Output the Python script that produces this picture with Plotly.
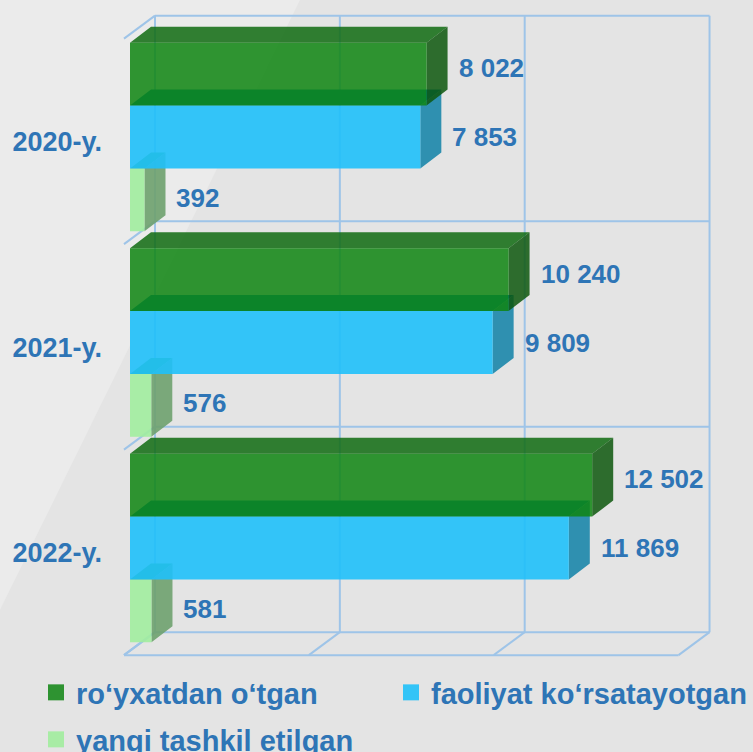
import plotly.graph_objects as go

# ---------------- data ----------------
years = ["2020-y.", "2021-y.", "2022-y."]
series_names = ["ro‘yxatdan o‘tgan", "faoliyat ko‘rsatayotgan", "yangi tashkil etilgan"]
registered = [8022, 10240, 12502]      # ro‘yxatdan o‘tgan
active = [7853, 9809, 11869]           # faoliyat ko‘rsatayotgan
new_created = [392, 576, 581]          # yangi tashkil etilgan
grid_values = [0, 5000, 10000, 15000]

# ---------------- geometry / style ----------------
W, H = 753, 752
K = 184.85 / 5000.0          # px per value unit (x)
ROW = 205.5                  # px per category (y)
X0_PX = 130                  # pixel of value 0 on bar front plane
Y0_PX = 137                  # pixel of first category center
M_L, M_R, M_T, M_B = 106, 13, 0, 92
PLOT_W = W - M_L - M_R
PLOT_H = H - M_T - M_B

xmin = (M_L - X0_PX) / K
xmax = (W - M_R - X0_PX) / K
ytop = (M_T - Y0_PX) / ROW
ybot = (M_T + PLOT_H - Y0_PX) / ROW

BAR_H = 62.8 / ROW
BAR_DX, BAR_DY = 21 / K, -16 / ROW         # bar depth
BACK_DX, BACK_DY = 25 / K, -18.6 / ROW     # back wall offset
FRONT_DX, FRONT_DY = -6 / K, 4.4 / ROW     # front edge offset

TEXT_BLUE = "#2e75b6"
GRID_COL = "rgb(158,196,232)"
FONT = "Liberation Sans, Arial, sans-serif"

# series drawn from bottom (back) to top so translucent fronts overlap correctly
series = [
    dict(vals=new_created, off=1, front="rgba(161,237,158,0.9)", top="rgb(70,170,80)",
         side="rgba(110,161,110,0.9)", legend="#a8eca5", name=series_names[2], dy=2),
    dict(vals=active, off=0, front="rgba(31,192,249,0.9)", top="rgb(0,128,181)",
         side="rgba(27,134,170,0.9)", legend="#33c4f7", name=series_names[1], dy=0),
    dict(vals=registered, off=-1, front="rgba(14,133,17,0.85)", top="rgba(15,107,16,0.85)",
         side="rgba(13,87,13,0.85)", legend="#2e9331", name=series_names[0], dy=6),
]

fig = go.Figure()

# ---------------- 3D frame (walls / floor grid) ----------------
gx, gy = [], []
bounds = [i - 0.5 for i in range(len(years) + 1)]
gmax = grid_values[-1]
for g in grid_values:  # back wall verticals
    gx += [g + BACK_DX, g + BACK_DX, None]
    gy += [bounds[0] + BACK_DY, bounds[-1] + BACK_DY, None]
for b in bounds:  # back wall horizontals
    gx += [BACK_DX, gmax + BACK_DX, None]
    gy += [b + BACK_DY, b + BACK_DY, None]
for b in bounds:  # left wall diagonals
    gx += [FRONT_DX, BACK_DX, None]
    gy += [b + FRONT_DY, b + BACK_DY, None]
for g in grid_values:  # floor diagonals
    gx += [g + FRONT_DX, g + BACK_DX, None]
    gy += [bounds[-1] + FRONT_DY, bounds[-1] + BACK_DY, None]
gx += [FRONT_DX, gmax + FRONT_DX, None]  # floor front edge
gy += [bounds[-1] + FRONT_DY, bounds[-1] + FRONT_DY, None]
fig.add_trace(go.Scatter(x=gx, y=gy, mode="lines", line=dict(color=GRID_COL, width=2),
                         showlegend=False, hoverinfo="skip"))

# ---------------- bars as 3D boxes ----------------
def poly_trace(xs, ys, color):
    return go.Scatter(x=xs, y=ys, mode="lines", fill="toself", fillcolor=color,
                      line=dict(width=0, color=color), showlegend=False, hoverinfo="skip")

for s in series:
    tx, ty, sx, sy, fx, fy = [], [], [], [], [], []
    for i, v in enumerate(s["vals"]):
        yc = i + s["off"] * BAR_H
        yt, yb = yc - BAR_H / 2, yc + BAR_H / 2
        # top face
        tx += [0, v, v + BAR_DX, BAR_DX, 0, None]
        ty += [yt, yt, yt + BAR_DY, yt + BAR_DY, yt, None]
        # right side face
        sx += [v, v + BAR_DX, v + BAR_DX, v, v, None]
        sy += [yt, yt + BAR_DY, yb + BAR_DY, yb, yt, None]
        # front face
        fx += [0, v, v, 0, 0, None]
        fy += [yt, yt, yb, yb, yt, None]
    fig.add_trace(poly_trace(tx, ty, s["top"]))
    fig.add_trace(poly_trace(sx, sy, s["side"]))
    fig.add_trace(poly_trace(fx, fy, s["front"]))

# ---------------- value labels ----------------
for s in series:
    for i, v in enumerate(s["vals"]):
        fig.add_annotation(x=v, y=i + s["off"] * BAR_H, text=f"{v:,}".replace(",", " "),
                           showarrow=False, xanchor="left", yanchor="middle",
                           xshift=30, yshift=s["dy"],
                           font=dict(family=FONT, size=26, color=TEXT_BLUE, weight="bold"))

# ---------------- legend entries (one legend box per entry) ----------------
legend_order = [series[2], series[1], series[0]]
legend_ids = ["legend", "legend2", "legend3"]
for s, lid in zip(legend_order, legend_ids):
    fig.add_trace(go.Scatter(x=[None], y=[None], mode="markers", name=s["name"],
                             marker=dict(symbol="square", size=16, color=s["legend"]),
                             legend=lid))

legend_font = dict(family=FONT, size=29, color=TEXT_BLUE, weight="bold")
legend_pos = {"legend": (36, 667), "legend2": (391, 667), "legend3": (36, 714)}
legends = {}
for lid, (lx, ly) in legend_pos.items():
    legends[lid] = dict(orientation="h", xref="container", yref="container",
                        x=lx / W, y=1 - ly / H, xanchor="left", yanchor="top",
                        font=legend_font, bgcolor="rgba(0,0,0,0)")

fig.update_layout(
    width=W, height=H,
    margin=dict(l=M_L, r=M_R, t=M_T, b=M_B),
    paper_bgcolor="#e4e4e4", plot_bgcolor="rgba(0,0,0,0)",
    hovermode=False,
    xaxis=dict(range=[xmin, xmax], visible=False, fixedrange=True),
    yaxis=dict(range=[ybot, ytop], tickvals=list(range(len(years))), ticktext=years,
               showgrid=False, zeroline=False, showline=False, ticks="",
               ticklabelshift=-5, ticklabelstandoff=3,
               tickfont=dict(family=FONT, size=27, color=TEXT_BLUE, weight="bold"),
               fixedrange=True),
    shapes=[dict(type="path", xref="paper", yref="paper", layer="below",
                 path=f"M {(0 - M_L) / PLOT_W},1 L {(300 - M_L) / PLOT_W},1 L {(0 - M_L) / PLOT_W},{1 - 610 / PLOT_H} Z",
                 fillcolor="rgba(255,255,255,0.25)", line=dict(width=0))],
    **legends,
)

fig.write_html("out.html", config={"displayModeBar": False},
               post_script="document.body.style.margin='0';document.body.style.background='#e4e4e4';")
